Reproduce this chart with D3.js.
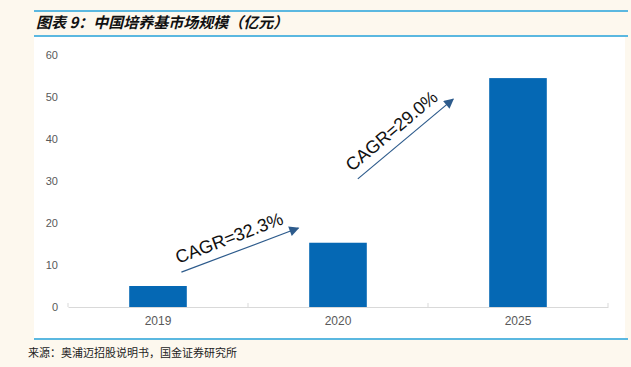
<!DOCTYPE html>
<html>
<head>
<meta charset="utf-8">
<script src="https://cdn.jsdelivr.net/npm/d3@7"></script>
<style>
  body { margin: 0; background: #fdf8ee; }
  svg { display: block; }
</style>
</head>
<body>
<div class="js-chart"></div>
<script>
var categories = ['2019', '2020', '2025'];
var values = [5.0, 15.3, 54.5];
var yTicks = [0, 10, 20, 30, 40, 50, 60];
// CAGR arrows, in category-position / value units
var cagrLabels = ['CAGR=32.3%', 'CAGR=29.0%'];
var cagrFrom = [[0.13, 8.3], [1.11, 30.5]];
var cagrTo = [[0.78, 18.8], [1.64, 49.5]];

var width = 631, height = 367;

var svg = d3.select('.js-chart')
  .append('svg')
  .attr('width', width)
  .attr('height', height);

// page frame
svg.append('rect')
  .attr('x', 34).attr('y', 37)
  .attr('width', 591).attr('height', 302)
  .attr('fill', '#ffffff');

[11, 36, 339].forEach(function(y) {
  svg.append('line')
    .attr('x1', 34).attr('x2', 628)
    .attr('y1', y).attr('y2', y)
    .attr('stroke', '#5bb8e0')
    .attr('stroke-width', 2);
});

svg.append('text')
  .attr('x', 36).attr('y', 28)
  .attr('font-family', '"Noto Sans CJK SC"')
  .attr('font-size', 15)
  .attr('font-weight', 'bold')
  .attr('font-style', 'italic')
  .attr('fill', '#111')
  .text('图表 9：中国培养基市场规模（亿元）');

svg.append('text')
  .attr('x', 28).attr('y', 357)
  .attr('font-family', '"Noto Sans CJK SC"')
  .attr('font-size', 11)
  .attr('fill', '#222')
  .text('来源：奥浦迈招股说明书，国金证券研究所');

// scales
var x = d3.scaleBand()
  .domain(categories)
  .range([68, 608])
  .padding(0);

var y = d3.scaleLinear()
  .domain([0, 60])
  .range([307, 55]);

var pos = d3.scaleLinear()
  .domain([0, 1])
  .range([x(categories[0]) + x.bandwidth() / 2, x(categories[1]) + x.bandwidth() / 2]);

var barW = x.bandwidth() * 0.32;

// y labels
var yAxis = svg.append('g')
  .attr('transform', 'translate(58,0)')
  .call(d3.axisLeft(y).tickValues(yTicks).tickSize(0).tickPadding(0));
yAxis.select('.domain').remove();
yAxis.selectAll('text')
  .attr('font-family', 'Arial, "Liberation Sans", sans-serif')
  .attr('font-size', 11)
  .attr('fill', '#595959');

// bars
svg.selectAll('.bar')
  .data(values)
  .enter()
  .append('rect')
  .classed('bar', true)
  .attr('x', function(d, i) { return x(categories[i]) + (x.bandwidth() - barW) / 2; })
  .attr('y', function(d) { return y(d); })
  .attr('width', barW)
  .attr('height', function(d) { return y(0) - y(d); })
  .attr('fill', '#0568b4');

// baseline + x labels
var xAxis = svg.append('g')
  .attr('transform', 'translate(0,' + y(0) + ')')
  .call(d3.axisBottom(x).tickSize(0).tickPadding(9));
xAxis.select('.domain').attr('stroke', '#d9d9d9');
xAxis.selectAll('text')
  .attr('font-family', 'Arial, "Liberation Sans", sans-serif')
  .attr('font-size', 12)
  .attr('fill', '#595959');

svg.selectAll('.sep')
  .data(categories.concat(['end']))
  .enter()
  .append('line')
  .classed('sep', true)
  .attr('x1', function(d, i) { return x.range()[0] + i * x.step(); })
  .attr('x2', function(d, i) { return x.range()[0] + i * x.step(); })
  .attr('y1', y(0)).attr('y2', y(0) - 4)
  .attr('stroke', '#d9d9d9');

// arrows
svg.append('defs').append('marker')
  .attr('id', 'head')
  .attr('viewBox', '0 0 10 10')
  .attr('refX', 9).attr('refY', 5)
  .attr('markerWidth', 13).attr('markerHeight', 10)
  .attr('markerUnits', 'userSpaceOnUse')
  .attr('orient', 'auto')
  .append('path')
  .attr('d', 'M0,0 L10,5 L0,10 Z')
  .attr('fill', '#2d5b8c');

cagrLabels.forEach(function(label, i) {
  var x1 = pos(cagrFrom[i][0]), y1 = y(cagrFrom[i][1]);
  var x2 = pos(cagrTo[i][0]), y2 = y(cagrTo[i][1]);
  svg.append('line')
    .attr('x1', x1).attr('y1', y1)
    .attr('x2', x2).attr('y2', y2)
    .attr('stroke', '#2d5b8c')
    .attr('stroke-width', 1.2)
    .attr('marker-end', 'url(#head)');

  var ang = Math.atan2(y2 - y1, x2 - x1);
  var nx = Math.sin(ang) * 9, ny = -Math.cos(ang) * 9;
  svg.append('text')
    .attr('transform', 'translate(' + (x1 + nx) + ',' + (y1 + ny) + ') rotate(' + (ang * 180 / Math.PI) + ')')
    .attr('font-family', 'Arial, "Liberation Sans", sans-serif')
    .attr('font-size', 18)
    .attr('fill', '#111')
    .text(label);
});
</script>
</body>
</html>
